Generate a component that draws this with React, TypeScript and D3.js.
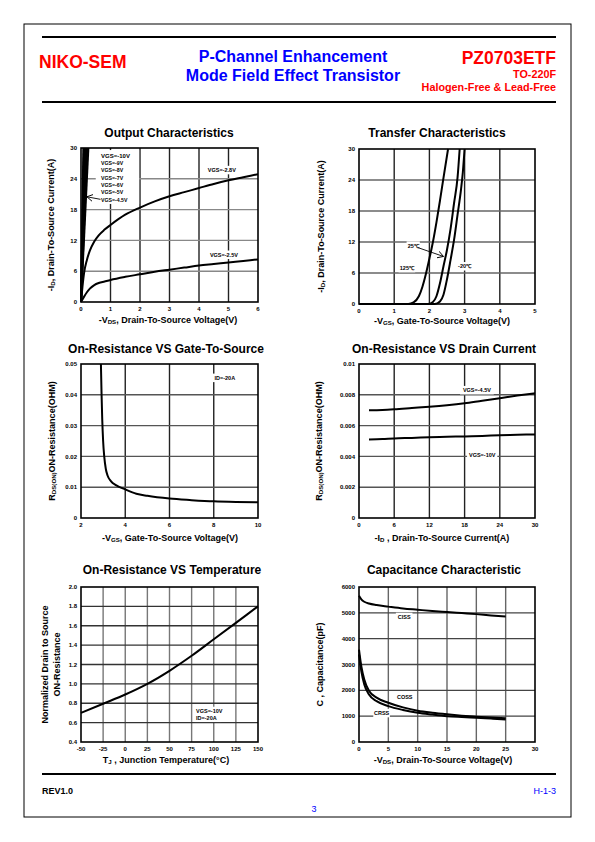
import React from "react";
import * as d3 from "d3";

type Pt = [number, number];
const FONT = "'Liberation Sans', Arial, Helvetica, sans-serif";

// ---------------- Output Characteristics ----------------
const outTicksX = [0, 1, 2, 3, 4, 5, 6];
const outTicksY = [0, 6, 12, 18, 24, 30];
const outSteepNames = ["VGS=-10V", "VGS=-9V", "VGS=-8V", "VGS=-7V", "VGS=-6V", "VGS=-5V", "VGS=-4.5V"];
const outSteepTopVds = [0.08, 0.1, 0.12, 0.15, 0.18, 0.21, 0.25];
const outVgs28: Pt[] = [[0, 0], [0.05, 3], [0.1, 5.5], [0.2, 8.2], [0.3, 10], [0.45, 11.8], [0.6, 13], [0.8, 14.1], [1, 15], [1.5, 17], [2, 18.4], [2.5, 19.6], [3, 20.6], [3.5, 21.4], [4, 22.2], [4.5, 23], [5, 23.7], [5.5, 24.3], [6, 24.9]];
const outVgs25: Pt[] = [[0, 0], [0.1, 1], [0.2, 1.9], [0.3, 2.6], [0.45, 3.3], [0.6, 3.7], [0.8, 4], [1, 4.3], [1.5, 4.9], [2, 5.4], [2.5, 5.9], [3, 6.3], [3.5, 6.7], [4, 7.1], [4.5, 7.4], [5, 7.7], [5.5, 8], [6, 8.3]];

// ---------------- Transfer Characteristics ----------------
const trTicksX = [0, 1, 2, 3, 4, 5];
const trTicksY = [0, 6, 12, 18, 24, 30];
const tr125: Pt[] = [[0, 0], [1.4, 0], [1.55, 0.3], [1.7, 1.5], [1.8, 3.3], [1.9, 5.8], [2.0, 8.8], [2.1, 12], [2.2, 15.8], [2.3, 20], [2.4, 24.4], [2.53, 30]];
const tr25: Pt[] = [[0, 0], [1.95, 0], [2.1, 0.4], [2.2, 1.5], [2.3, 4], [2.4, 7.3], [2.5, 10.5], [2.6, 14.5], [2.7, 19.5], [2.8, 24.5], [2.86, 30]];
const trM20: Pt[] = [[0, 0], [2.15, 0], [2.3, 0.5], [2.4, 1.8], [2.5, 4.8], [2.6, 8.5], [2.7, 12.4], [2.8, 17.3], [2.9, 22.3], [2.95, 25.5], [3.0, 30]];

// ---------------- On-Resistance VS Gate-To-Source ----------------
const rgTicksX = [2, 4, 6, 8, 10];
const rgTicksY = [0, 0.01, 0.02, 0.03, 0.04, 0.05];
const rgVgs = [2.9, 2.93, 2.96, 3.0, 3.05, 3.12, 3.2, 3.35, 3.6, 4, 4.5, 5, 6, 7, 8, 9, 10];
const rgRds = [0.05, 0.04, 0.032, 0.025, 0.02, 0.016, 0.0138, 0.012, 0.0106, 0.0093, 0.0079, 0.0072, 0.0063, 0.0058, 0.0054, 0.0052, 0.0051];

// ---------------- On-Resistance VS Drain Current ----------------
const rdTicksX = [0, 6, 12, 18, 24, 30];
const rdTicksY = [0, 0.002, 0.004, 0.006, 0.008, 0.01];
const rdId = [1.7, 4, 6, 9, 12, 15, 18, 21, 24, 27, 30];
const rdVgs45 = [0.0070, 0.00702, 0.00706, 0.00714, 0.00722, 0.00732, 0.00745, 0.00762, 0.00778, 0.00795, 0.0081];
const rdVgs10 = [0.0051, 0.00513, 0.00517, 0.0052, 0.00524, 0.00527, 0.0053, 0.00533, 0.00537, 0.0054, 0.00543];

// ---------------- On-Resistance VS Temperature ----------------
const rtTicksX = [-50, -25, 0, 25, 50, 75, 100, 125, 150];
const rtTicksY = [0.4, 0.6, 0.8, 1.0, 1.2, 1.4, 1.6, 1.8, 2.0];
const rtTemp = [-50, -25, 0, 25, 50, 75, 100, 125, 150];
const rtNorm = [0.70, 0.795, 0.89, 1.0, 1.135, 1.29, 1.46, 1.63, 1.80];

// ---------------- Capacitance ----------------
const capTicksX = [0, 5, 10, 15, 20, 25, 30];
const capTicksY = [0, 1000, 2000, 3000, 4000, 5000, 6000];
const capVds = [0, 0.4, 0.9, 1.7, 3, 5, 7.5, 10, 12.5, 15, 17.5, 20, 22.5, 25];
const capCiss = [5660, 5520, 5430, 5360, 5300, 5240, 5170, 5120, 5070, 5030, 4990, 4950, 4900, 4860];
const capCoss = [3580, 2930, 2420, 1980, 1720, 1520, 1340, 1210, 1130, 1070, 1020, 980, 945, 915];
const capCrss = [3390, 2740, 2230, 1840, 1580, 1390, 1240, 1130, 1060, 1000, 965, 935, 905, 875];

const zip = (a: number[], b: number[]): Pt[] => a.map((v, i) => [v, b[i]]);

type Box = { x0: number; x1: number; y0: number; y1: number };
type Note = { text: string; x: number; y: number; size?: number; anchor?: "start" | "middle" | "end"; bg?: boolean };
type Arrow = { from: Pt; to: Pt };

interface ChartProps {
  box: Box;
  xDomain: [number, number];
  yDomain: [number, number];
  xTicks: number[];
  yTicks: number[];
  xFmt: (v: number) => string;
  yFmt: (v: number) => string;
  series: Pt[][];
  curve?: any;
  notes?: Note[];
  arrows?: Arrow[];
  bgRects?: [Pt, Pt][];
  title: string;
  titleX: number;
  titleY: number;
  xLabel: string[];
  xLabelX: number;
  xLabelY: number;
  yLabel: string[][];
  yLabelX: number[];
  vGrid: string;
  hGrid: string;
}

function Rich({ parts }: { parts: string[] }) {
  let down = false;
  return (
    <>
      {parts.map((p, i) => {
        const sub = p.startsWith("_");
        const t = sub ? p.slice(1) : p;
        let dy: number | undefined;
        if (sub && !down) { dy = 1.3; down = true; }
        else if (!sub && down) { dy = -1.3; down = false; }
        return (
          <tspan key={i} dy={dy} fontSize={sub ? "0.68em" : undefined}>{t}</tspan>
        );
      })}
    </>
  );
}

function Chart(p: ChartProps) {
  const x = d3.scaleLinear().domain(p.xDomain).range([p.box.x0, p.box.x1]);
  const y = d3.scaleLinear().domain(p.yDomain).range([p.box.y1, p.box.y0]);
  const line = d3.line<Pt>().x((d) => x(d[0])).y((d) => y(d[1])).curve(p.curve || d3.curveMonotoneX);
  const yMid = (p.box.y0 + p.box.y1) / 2;
  const notes = p.notes || [];
  return (
    <g fontFamily={FONT}>
      <text x={p.titleX} y={p.titleY} textAnchor="middle" fontSize={12} fontWeight="bold">{p.title}</text>
      {p.xTicks.slice(1, -1).map((t) => (
        <line key={"v" + t} x1={x(t)} x2={x(t)} y1={p.box.y0} y2={p.box.y1} stroke={p.vGrid} strokeWidth={1.4} />
      ))}
      {p.yTicks.slice(1, -1).map((t) => (
        <line key={"h" + t} x1={p.box.x0} x2={p.box.x1} y1={y(t)} y2={y(t)} stroke={p.hGrid} strokeWidth={1.4} />
      ))}
      {(p.bgRects || []).map((r, i) => (
        <rect key={"bg" + i} x={x(r[0][0])} y={y(r[0][1])} width={x(r[1][0]) - x(r[0][0])} height={y(r[1][1]) - y(r[0][1])} fill="white" />
      ))}
      {notes.filter((n) => n.bg).map((n, i) => {
        const fs = n.size || 5.5;
        const w = n.text.length * fs * 0.62 + 3;
        const cx = x(n.x);
        const left = n.anchor === "middle" ? cx - w / 2 : n.anchor === "end" ? cx - w : cx - 1.5;
        return <rect key={"nb" + i} x={left} y={y(n.y) - fs / 2 - 1.5} width={w} height={fs + 3} fill="white" />;
      })}
      {p.series.map((s, i) => (
        <path key={"s" + i} d={line(s) || ""} fill="none" stroke="black" strokeWidth={2} strokeLinejoin="round" />
      ))}
      <rect x={p.box.x0} y={p.box.y0} width={p.box.x1 - p.box.x0} height={p.box.y1 - p.box.y0} fill="none" stroke="black" strokeWidth={1.6} />
      {notes.map((n, i) => (
        <text key={"n" + i} x={x(n.x)} y={y(n.y)} dy="0.35em" fontSize={n.size || 5.5} fontWeight="bold" textAnchor={n.anchor || "start"}>{n.text}</text>
      ))}
      {(p.arrows || []).map((a, i) => (
        <line key={"a" + i} x1={x(a.from[0])} y1={y(a.from[1])} x2={x(a.to[0])} y2={y(a.to[1])} stroke="black" strokeWidth={0.9} markerEnd="url(#arrowHead)" />
      ))}
      {p.xTicks.map((t) => (
        <text key={"xt" + t} x={x(t)} y={p.box.y1 + 9} fontSize={6} fontWeight="bold" textAnchor="middle">{p.xFmt(t)}</text>
      ))}
      {p.yTicks.map((t) => (
        <text key={"yt" + t} x={p.box.x0 - 4} y={y(t)} dy="0.35em" fontSize={6} fontWeight="bold" textAnchor="end">{p.yFmt(t)}</text>
      ))}
      <text x={p.xLabelX} y={p.xLabelY} textAnchor="middle" fontSize={9} fontWeight="bold">
        <Rich parts={p.xLabel} />
      </text>
      {p.yLabel.map((ln, i) => (
        <text key={"yl" + i} transform={`translate(${p.yLabelX[i]},${yMid}) rotate(-90)`} textAnchor="middle" fontSize={9} fontWeight="bold">
          <Rich parts={ln} />
        </text>
      ))}
    </g>
  );
}

const intFmt = (v: number) => String(v);
const rawFmt = (v: number) => (v === 0 ? "0" : String(v));
const oneDec = (v: number) => v.toFixed(1);

const LEFT = { x0: 81, x1: 258 };
const RIGHT = { x0: 359, x1: 535 };

export default function App() {
  const steepSeries: Pt[][] = outSteepTopVds.map((v) => [[0, 0], [v, 30]]);
  const stackNotes: Note[] = outSteepNames.map((t, i) => ({ text: t, x: 0.68, y: 28.5 - i * 1.43, size: i === 0 ? 6 : 5.2 }));
  return (
    <svg width={595} height={842} style={{ position: "absolute", left: 0, top: 0 }} fontFamily={FONT}>
      <defs>
        <marker id="arrowHead" markerWidth={8} markerHeight={8} refX={6} refY={4} orient="auto" markerUnits="userSpaceOnUse">
          <path d="M0,0.5 L6,4 L0,7.5" fill="none" stroke="black" strokeWidth={0.9} />
        </marker>
      </defs>
      <rect x={0} y={0} width={595} height={842} fill="white" />
      <rect x={24} y={24} width={547} height={793} fill="none" stroke="black" strokeWidth={1} />
      <line x1={42} x2={556} y1={37} y2={37} stroke="black" strokeWidth={2.2} />
      <line x1={42} x2={556} y1={102} y2={102} stroke="black" strokeWidth={2.2} />
      <text x={39} y={68} fontSize={17.5} fontWeight="bold" fill="#ff0000">NIKO-SEM</text>
      <text x={293} y={62} fontSize={16} fontWeight="bold" fill="#0000ff" textAnchor="middle">P-Channel Enhancement</text>
      <text x={293} y={81} fontSize={16} fontWeight="bold" fill="#0000ff" textAnchor="middle">Mode Field Effect Transistor</text>
      <text x={556} y={64} fontSize={17.5} fontWeight="bold" fill="#ff0000" textAnchor="end">PZ0703ETF</text>
      <text x={556} y={78} fontSize={10.8} fontWeight="bold" fill="#ff0000" textAnchor="end">TO-220F</text>
      <text x={556} y={91} fontSize={10.8} fontWeight="bold" fill="#ff0000" textAnchor="end">Halogen-Free &amp; Lead-Free</text>

      <Chart
        box={{ ...LEFT, y0: 148, y1: 302 }}
        xDomain={[0, 6]} yDomain={[0, 30]} xTicks={outTicksX} yTicks={outTicksY}
        xFmt={intFmt} yFmt={intFmt}
        series={[...steepSeries, outVgs28, outVgs25]}
        bgRects={[[[0.5, 29.6], [1.97, 19.1]]]}
        notes={[...stackNotes,
          { text: "VGS=-2.8V", x: 4.3, y: 25.7, bg: true },
          { text: "VGS=-2.5V", x: 4.37, y: 9.2, bg: true }]}
        arrows={[{ from: [0.66, 20.0], to: [0.2, 20.5] }]}
        title="Output Characteristics" titleX={169} titleY={137}
        xLabel={["-V", "_DS", ", Drain-To-Source Voltage(V)"]} xLabelX={168} xLabelY={323}
        yLabel={[["-I", "_D", ", Drain-To-Source Current(A)"]]} yLabelX={[54]}
        vGrid="#222" hGrid="#888"
      />

      <Chart
        box={{ ...RIGHT, y0: 149, y1: 304 }}
        xDomain={[0, 5]} yDomain={[0, 30]} xTicks={trTicksX} yTicks={trTicksY}
        xFmt={intFmt} yFmt={intFmt}
        series={[tr125, tr25, trM20]}
        notes={[
          { text: "25℃", x: 1.54, y: 11.3, anchor: "middle", bg: true },
          { text: "125℃", x: 1.36, y: 6.95, anchor: "middle", bg: true },
          { text: "-20℃", x: 3.0, y: 7.3, anchor: "middle", bg: true }]}
        arrows={[{ from: [1.68, 10.9], to: [2.4, 9.2] }]}
        title="Transfer Characteristics" titleX={437} titleY={137}
        xLabel={["-V", "_GS", ", Gate-To-Source Voltage(V)"]} xLabelX={442} xLabelY={324}
        yLabel={[["-I", "_D", ", Drain-To-Source Current(A)"]]} yLabelX={[324]}
        vGrid="#222" hGrid="#666"
      />

      <Chart
        box={{ ...LEFT, y0: 364, y1: 518 }}
        xDomain={[2, 10]} yDomain={[0, 0.05]} xTicks={rgTicksX} yTicks={rgTicksY}
        xFmt={intFmt} yFmt={rawFmt}
        series={[zip(rgVgs, rgRds)]}
        notes={[{ text: "ID=-20A", x: 8.5, y: 0.0455, anchor: "middle", bg: true }]}
        title="On-Resistance VS Gate-To-Source" titleX={166} titleY={353}
        xLabel={["-V", "_GS", ", Gate-To-Source Voltage(V)"]} xLabelX={170} xLabelY={541}
        yLabel={[["R", "_DS(ON)", "ON-Resistance(OHM)"]]} yLabelX={[55]}
        vGrid="#222" hGrid="#555"
      />

      <Chart
        box={{ ...RIGHT, y0: 364, y1: 518 }}
        xDomain={[0, 30]} yDomain={[0, 0.01]} xTicks={rdTicksX} yTicks={rdTicksY}
        xFmt={intFmt} yFmt={rawFmt}
        series={[zip(rdId, rdVgs45), zip(rdId, rdVgs10)]}
        notes={[
          { text: "VGS=-4.5V", x: 20.1, y: 0.0083, anchor: "middle", bg: true },
          { text: "VGS=-10V", x: 21, y: 0.0041, anchor: "middle", bg: true }]}
        title="On-Resistance VS Drain Current" titleX={444} titleY={353}
        xLabel={["-I", "_D", " , Drain-To-Source Current(A)"]} xLabelX={442} xLabelY={541}
        yLabel={[["R", "_DS(ON)", "ON-Resistance(OHM)"]]} yLabelX={[322]}
        vGrid="#222" hGrid="#555"
      />

      <Chart
        box={{ ...LEFT, y0: 587, y1: 742 }}
        xDomain={[-50, 150]} yDomain={[0.4, 2.0]} xTicks={rtTicksX} yTicks={rtTicksY}
        xFmt={intFmt} yFmt={oneDec}
        series={[zip(rtTemp, rtNorm)]}
        notes={[
          { text: "VGS=-10V", x: 80, y: 0.72, bg: true },
          { text: "ID=-20A", x: 80, y: 0.65, bg: true }]}
        title="On-Resistance VS Temperature" titleX={172} titleY={574}
        xLabel={["T", "_J", " , Junction Temperature(°C)"]} xLabelX={166} xLabelY={763}
        yLabel={[["Normalized Drain to Source"], ["ON-Resistance"]]} yLabelX={[48, 60]}
        vGrid="#777" hGrid="#333"
      />

      <Chart
        box={{ ...RIGHT, y0: 587, y1: 742 }}
        xDomain={[0, 30]} yDomain={[0, 6000]} xTicks={capTicksX} yTicks={capTicksY}
        xFmt={intFmt} yFmt={intFmt}
        series={[zip(capVds, capCiss), zip(capVds, capCoss), zip(capVds, capCrss)]}
        notes={[
          { text: "CISS", x: 7.7, y: 4840, anchor: "middle", bg: true },
          { text: "COSS", x: 7.8, y: 1750, anchor: "middle", bg: true },
          { text: "CRSS", x: 3.85, y: 1120, anchor: "middle", bg: true }]}
        title="Capacitance Characteristic" titleX={444} titleY={574}
        xLabel={["-V", "_DS", ", Drain-To-Source Voltage(V)"]} xLabelX={443} xLabelY={763}
        yLabel={[["C , Capacitance(pF)"]]} yLabelX={[323]}
        vGrid="#666" hGrid="#444"
      />

      <line x1={42} x2={556} y1={774} y2={774} stroke="black" strokeWidth={2.2} />
      <text x={42} y={794} fontSize={9} fontWeight="bold">REV1.0</text>
      <text x={556} y={794} fontSize={9} fill="#0000ff" textAnchor="end">H-1-3</text>
      <text x={314} y={812} fontSize={9} fill="#0000ff" textAnchor="middle">3</text>
    </svg>
  );
}
